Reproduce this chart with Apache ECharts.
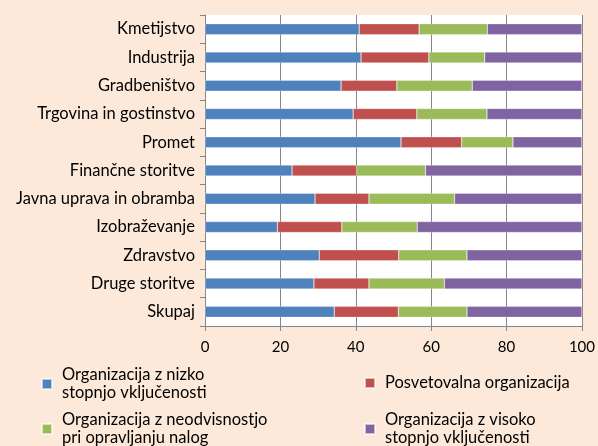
<!DOCTYPE html>
<html>
<head>
<meta charset="utf-8">
<script src="https://cdn.jsdelivr.net/npm/echarts@6/dist/echarts.min.js"></script>
<style>
html,body{margin:0;padding:0;background:#fde9d9;}
#chart{width:598px;height:446px;}
</style>
</head>
<body>
<div id="chart"></div>
<script>
var categories = ["Kmetijstvo","Industrija","Gradbeništvo","Trgovina in gostinstvo","Promet",
	"Finančne storitve","Javna uprava in obramba","Izobraževanje","Zdravstvo","Druge storitve","Skupaj"];
var seriesNames = ["Organizacija z nizko\nstopnjo vključenosti","Posvetovalna organizacija",
	"Organizacija z neodvisnostjo\npri opravljanju nalog","Organizacija z visoko\nstopnjo vključenosti"];
var nizko    = [40.9, 41.4, 36.1, 39.3, 52.0, 23.1, 29.2, 19.2, 30.3, 28.9, 34.3];
var posvet   = [15.9, 18.0, 14.8, 16.9, 16.1, 17.1, 14.3, 17.1, 21.1, 14.6, 17.0];
var neodvisn = [18.1, 14.8, 20.0, 18.6, 13.6, 18.3, 22.7, 20.0, 18.1, 20.0, 18.2];
var visoko   = [25.1, 25.8, 29.1, 25.2, 18.3, 41.5, 33.8, 43.7, 30.5, 36.5, 30.5];
var xTicks = [0, 20, 40, 60, 80, 100];

var colors = ["#4f81bd","#c0504d","#9bbb59","#8064a2"];
var values = [nizko, posvet, neodvisn, visoko];
var fontFam = "Lato";

var series = [];
for(var i = 0; i < values.length; i++){
	series.push({
		name: seriesNames[i],
		type: "bar",
		stack: "total",
		barWidth: 11,
		data: values[i],
		itemStyle: {color: colors[i], borderColor: "rgba(255,255,255,0.6)", borderWidth: 0.5},
		emphasis: {disabled: true}
	});
}

// legend: two columns, icon centred on the text block
var legendPos = [[41, 366], [364, 374], [41, 411], [364, 411]];
var legends = [];
for(var i = 0; i < seriesNames.length; i++){
	legends.push({
		data: [seriesNames[i]],
		left: legendPos[i][0],
		top: legendPos[i][1],
		padding: 0,
		itemWidth: 10,
		itemHeight: 10,
		icon: "rect",
		selectedMode: false,
		textStyle: {fontFamily: fontFam, fontSize: 16.5, color: "#000", lineHeight: 18, padding: [0, 0, 0, 5]}
	});
}

var myChart = echarts.init(document.getElementById("chart"));
var option = {
	backgroundColor: "#fde9d9",
	animation: false,
	color: colors,
	legend: legends,
	grid: {left: 205, right: 15, top: 15, bottom: 120, backgroundColor: "#fff", show: true, borderWidth: 0},
	xAxis: {
		type: "value",
		min: xTicks[0],
		max: xTicks[xTicks.length - 1],
		interval: 20,
		axisLine: {show: true, lineStyle: {color: "#868686", width: 1}},
		axisTick: {show: true, length: 5, lineStyle: {color: "#868686"}},
		axisLabel: {margin: 14, fontFamily: fontFam, fontSize: 15, color: "#000"},
		splitLine: {show: true, lineStyle: {color: "#868686", width: 1}}
	},
	yAxis: {
		type: "category",
		inverse: true,
		data: categories,
		axisLine: {show: true, lineStyle: {color: "#868686", width: 1}},
		axisTick: {show: true, length: 5, lineStyle: {color: "#868686"}},
		axisLabel: {margin: 10, fontFamily: fontFam, fontSize: 16.5, color: "#000"}
	},
	series: series
};
myChart.setOption(option);
</script>
</body>
</html>
